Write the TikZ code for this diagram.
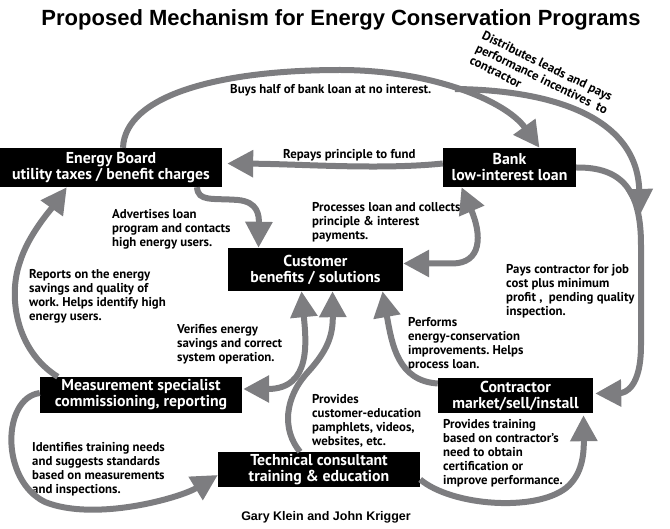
\documentclass[tikz,border=0pt]{standalone}
\usepackage{fontspec}
\setmainfont{PT Sans}
\newfontfamily\headfont{Liberation Sans}
\usetikzlibrary{arrows.meta,calc}
\definecolor{flowgray}{RGB}{125,125,128}
\frenchspacing
\begin{document}
\begin{tikzpicture}[x=1pt,y=-1pt,
  flow/.style={draw=flowgray,line width=\klw pt,>={Triangle[length=\ktip pt,width=\ktip pt]}},
  box/.style={fill=black,text=white,inner sep=0pt,align=center,font=\bfseries\fontsize{15.8}{16}\selectfont},
  lbl/.style={anchor=north west,inner sep=0pt,align=left,font=\bfseries\fontsize{12.8}{14}\selectfont}]
\pgfmathsetmacro{\klw}{6}
\pgfmathsetmacro{\ktip}{26}
\useasboundingbox (0,0) rectangle (670,529);
\node[font=\headfont\bfseries\fontsize{22}{26}\selectfont,anchor=base](title) at (341,26){Proposed Mechanism for Energy Conservation Programs};
\node[box,minimum width=222pt,minimum height=39pt](eboard) at (111,167.5){Energy Board\\utility taxes / benefit charges};
\node[box,minimum width=133pt,minimum height=39pt](bank) at (509.5,167.5){Bank\\low-interest loan};
\node[box,minimum width=175pt,minimum height=43pt](customer) at (315.5,269.5){Customer\\benefits / solutions};
\node[box,minimum width=202pt,minimum height=36pt](measure) at (141,395){Measurement specialist\\commissioning, reporting};
\node[box,minimum width=155pt,minimum height=35pt](contractor) at (515.5,395.5){Contractor\\market/sell/install};
\node[box,minimum width=202pt,minimum height=35pt](tech) at (319,469.5){Technical consultant\\training \& education};
\foreach \lname/\lx/\ly/\ltext in {buys/230/84/{Buys half of bank loan at no interest.},
  repays/283/149/{Repays principle to fund},
  adv/112/209/{Advertises loan\\program and contacts\\high energy users.},
  proc/312/202/{Processes loan and collects\\principle \& interest\\payments.},
  rep/29/269/{Reports on the energy\\savings and quality of\\work. Helps identify high\\energy users.},
  pays/506/264/{Pays contractor for job\\cost plus minimum\\profit , ~pending quality\\inspection.},
  ver/177/324/{Verifies energy\\savings and correct\\system operation.},
  perf/408/317/{Performs\\energy-conservation\\improvements. Helps\\process loan.},
  edu/312/394/{Provides\\customer-education\\pamphlets, videos,\\websites, etc.},
  ident/32/442/{Identifies training needs\\and suggests standards\\based on measurements\\and inspections.},
  train/443/419/{Provides training\\based on contractor's\\need to obtain\\certification or\\improve performance.}}
  {\node[lbl](\lname) at (\lx,\ly){\ltext};}
\node[lbl,rotate=-26](dist) at (485,30){Distributes leads and pays\\performance incentives ~to\\contractor};
\node[font=\headfont\bfseries\fontsize{12.5}{15}\selectfont,anchor=base](credit) at (326,520){Gary Klein and John Krigger};
\coordinate (split) at (455,89);
\coordinate (leadend) at (640,215);
\draw[flow,->]($(eboard.north)+(12,0)$) .. controls (125,95) and (220,70) .. (340,70) .. controls (430,70) and (505,100) .. ($(bank.north)+(30,0)$);
\draw[flow,->](split) .. controls (548,90) and (637,115) .. (leadend);
\draw[flow,->]($(bank.west)+(0,-4)$) .. controls (380,170) and (300,164) .. ($(eboard.east)+(5,-4)$);
\draw[flow,->]($(eboard.south)+(86,0)$) .. controls (198,202) and (212,198) .. (238,200) .. controls (258,202) and (259,215) .. ($(customer.north)+(-57,0)$);
\draw[flow,<->]($(customer.east)+(0,-6)$) -- (452,263.5) .. controls (482,263.5) and (482,235) .. ($(bank.south)+(-48,0)$);
\draw[flow,->](bank.east) .. controls (622,167) and (641,190) .. (641,245) -- (641,345) .. controls (641,388) and (625,393) .. ($(contractor.east)+(2,-2)$);
\draw[flow,->]($(measure.north west)+(18,0)$) .. controls (15,350) and (8,295) .. (20,262) .. controls (28,235) and (52,208) .. ($(eboard.south west)+(67,0)$);
\draw[flow,<->]($(customer.south)+(-14,0)$) .. controls (306,340) and (312,389) .. ($(measure.east)+(1,-6)$);
\draw[flow,->]($(tech.north)+(-19,0)$) .. controls (282,430) and (284,398) .. (308,372) .. controls (328,350) and (333,335) .. ($(customer.south)+(17,0)$);
\draw[flow,->]($(contractor.west)+(0,-12)$) .. controls (398,381) and (392,345) .. ($(customer.south)+(67,0)$);
\draw[flow,->]($(measure.west)+(0,-2)$) .. controls (2,398) and (0,480) .. (45,502) .. controls (95,522) and (180,498) .. ($(tech.west)+(0,5.5)$);
\draw[flow,->]($(tech.east)+(0,10)$) .. controls (452,506) and (535,512) .. (566,488) .. controls (582,475) and (584,455) .. ($(contractor.south)+(68,2)$);
\end{tikzpicture}
\end{document}
